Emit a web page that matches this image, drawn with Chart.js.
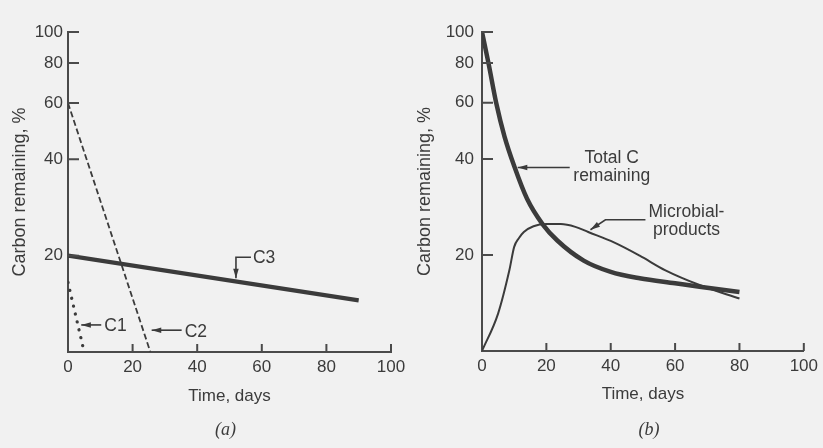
<!DOCTYPE html>
<html>
<head>
<meta charset="utf-8">
<script src="https://cdn.jsdelivr.net/npm/chart.js"></script>
<style>
  html, body { margin: 0; padding: 0; background: #f1f1f1; }
  #wrap { position: relative; width: 823px; height: 448px; overflow: hidden; }
  .panel { position: absolute; top: 0; height: 448px; }
  #panelA { left: 0; width: 412px; }
  #panelB { left: 412px; width: 411px; }
</style>
</head>
<body>
<div id="wrap">
  <div class="panel" id="panelA"><canvas id="chartA"></canvas></div>
  <div class="panel" id="panelB"><canvas id="chartB"></canvas></div>
</div>
<script>
// Panel (a): the three carbon pools (straight decays on the log axis)
const c1Days = [0, 5];
const c1Values = [16.5, 10];
const c2Days = [0, 25.5];
const c2Values = [60, 10];
const c3Days = [0, 90];
const c3Values = [20, 14.5];

// Panel (b): total C remaining and microbial products
const totalDays   = [0, 2, 4.4, 7, 10, 14, 18.8, 23.4, 31.6, 40, 49, 60, 67.6, 80];
const totalValues = [100, 80, 60, 47, 38, 30, 25, 22.2, 19.2, 17.7, 16.9, 16.3, 15.9, 15.3];
const microDays   = [0, 5, 8.5, 10, 11.5, 13, 16, 20, 24.5, 29, 33, 41, 49, 57, 67.6, 80];
const microValues = [10, 13.1, 17.9, 21.2, 22.6, 23.6, 24.6, 25, 25, 24.5, 23.6, 21.9, 19.9, 17.9, 16.1, 14.6];

// Axis ticks
const xTicks = [0, 20, 40, 60, 80, 100];
const yTicks = [20, 40, 60, 80, 100];

const ink = "#3b3b3b";
const axisInk = "#4a4a4a";
const sans = "'Liberation Sans', Arial, sans-serif";

function pts(days, values) {
    return days.map((d, i) => ({ x: d, y: values[i] }));
}

// Draws an arrow along a polyline; the first point is the tip
function arrow(ctx, path) {
    ctx.beginPath();
    ctx.moveTo(path[0][0], path[0][1]);
    for (let i = 1; i < path.length; i++) ctx.lineTo(path[i][0], path[i][1]);
    ctx.stroke();
    const [tx, ty] = path[0], [nx, ny] = path[1];
    const a = Math.atan2(ty - ny, tx - nx);
    ctx.beginPath();
    ctx.moveTo(tx, ty);
    ctx.lineTo(tx - 10 * Math.cos(a - 0.28), ty - 10 * Math.sin(a - 0.28));
    ctx.lineTo(tx - 10 * Math.cos(a + 0.28), ty - 10 * Math.sin(a + 0.28));
    ctx.closePath();
    ctx.fill();
}

// Inward tick marks, callouts and the panel letter
const decorations = {
    id: 'decorations',
    afterDraw(chart, args, opts) {
        const { ctx, chartArea, scales: { x, y } } = chart;
        ctx.save();
        ctx.strokeStyle = axisInk;
        ctx.lineWidth = 2;
        ctx.beginPath();
        xTicks.slice(1).forEach(v => {
            const px = x.getPixelForValue(v);
            ctx.moveTo(px, chartArea.bottom);
            ctx.lineTo(px, chartArea.bottom - 8);
        });
        yTicks.forEach(v => {
            const py = y.getPixelForValue(v);
            ctx.moveTo(chartArea.left, py);
            ctx.lineTo(chartArea.left + 11, py);
        });
        ctx.stroke();

        ctx.fillStyle = ink;
        ctx.strokeStyle = ink;
        ctx.lineWidth = 1.6;
        ctx.font = "17.5px " + sans;
        ctx.textBaseline = "middle";
        (opts.notes || []).forEach(n => {
            const tx = x.getPixelForValue(n.tip[0]);
            const ty = y.getPixelForValue(n.tip[1]);
            arrow(ctx, n.path.map(p => [tx + p[0], ty + p[1]]));
            ctx.textAlign = n.align || "left";
            n.lines.forEach((t, i) => ctx.fillText(t, tx + n.text[0], ty + n.text[1] + i * 18));
        });

        ctx.font = "italic 18px 'Liberation Serif', 'DejaVu Serif', serif";
        ctx.textAlign = "center";
        ctx.fillText(opts.letter, (chartArea.left + chartArea.right) / 2 + opts.letterDx, 430);
        ctx.restore();
    }
};

function panelOptions(p) {
    return {
        responsive: true,
        maintainAspectRatio: false,
        animation: false,
        layout: { padding: { left: 0, top: 32, right: p.right, bottom: 0 } },
        elements: { point: { radius: 0 } },
        plugins: {
            legend: { display: false },
            tooltip: { enabled: false },
            decorations: { notes: p.notes, letter: p.letter, letterDx: p.letterDx }
        },
        scales: {
            x: {
                type: 'linear',
                min: 0,
                max: 100,
                afterBuildTicks: s => { s.ticks = xTicks.map(v => ({ value: v })); },
                afterFit: s => { s.height = 448 - p.bottom; },
                grid: { display: false, drawTicks: false },
                border: { display: true, color: axisInk, width: 2 },
                ticks: { color: ink, font: { family: sans, size: 17 }, padding: 5, maxRotation: 0 },
                title: {
                    display: true, text: 'Time, days', color: ink,
                    font: { family: sans, size: 17 }, padding: { top: 0, bottom: p.xTitlePad }
                }
            },
            y: {
                type: 'logarithmic',
                min: 10,
                max: 100,
                afterBuildTicks: s => { s.ticks = yTicks.map(v => ({ value: v })); },
                afterFit: s => { s.width = p.left; },
                grid: { display: false, drawTicks: false },
                border: { display: true, color: axisInk, width: 2 },
                ticks: { color: ink, font: { family: sans, size: 17 }, padding: p.yTickPad, callback: v => String(v) },
                title: {
                    display: true, text: 'Carbon remaining, %', color: ink,
                    font: { family: sans, size: 18 }, padding: { top: p.yTitlePad, bottom: 0 }
                }
            }
        }
    };
}

new Chart(document.getElementById('chartA'), {
    type: 'line',
    data: {
        datasets: [
            { label: 'C1', data: pts(c1Days, c1Values), borderColor: ink, borderWidth: 3.2,
              borderDash: [0.1, 8], borderCapStyle: 'round' },
            { label: 'C2', data: pts(c2Days, c2Values), borderColor: ink, borderWidth: 1.8,
              borderDash: [6, 3] },
            { label: 'C3', data: pts(c3Days, c3Values), borderColor: ink, borderWidth: 4.2 }
        ]
    },
    options: panelOptions({
        left: 68, right: 21, bottom: 352, yTickPad: 5, yTitlePad: 9, xTitlePad: 41,
        letter: '(a)', letterDx: -4,
        notes: [
            { lines: ['C3'], tip: [52, 17.0], path: [[0, 0], [0, -21], [15, -21]], text: [17, -20] },
            { lines: ['C1'], tip: [4.1, 12.15], path: [[0, 0], [20, 0]], text: [23, 1] },
            { lines: ['C2'], tip: [25.9, 11.7], path: [[0, 0], [30, 0]], text: [33, 2] }
        ]
    }),
    plugins: [decorations]
});

new Chart(document.getElementById('chartB'), {
    type: 'line',
    data: {
        datasets: [
            { label: 'Total C remaining', data: pts(totalDays, totalValues), borderColor: ink,
              borderWidth: 4.5, cubicInterpolationMode: 'monotone' },
            { label: 'Microbial products', data: pts(microDays, microValues), borderColor: ink,
              borderWidth: 2, cubicInterpolationMode: 'monotone' }
        ]
    },
    options: panelOptions({
        left: 70, right: 18, bottom: 351, yTickPad: 8, yTitlePad: 2, xTitlePad: 43,
        letter: '(b)', letterDx: 6,
        notes: [
            { lines: ['Total C', 'remaining'], tip: [11.1, 37.6], path: [[0, 0], [52, 0]],
              text: [94, -9], align: 'center' },
            { lines: ['Microbial-', 'products'], tip: [33.7, 24.0], path: [[0, 0], [15, -10], [55, -10]],
              text: [96, -18], align: 'center' }
        ]
    }),
    plugins: [decorations]
});
</script>
</body>
</html>
